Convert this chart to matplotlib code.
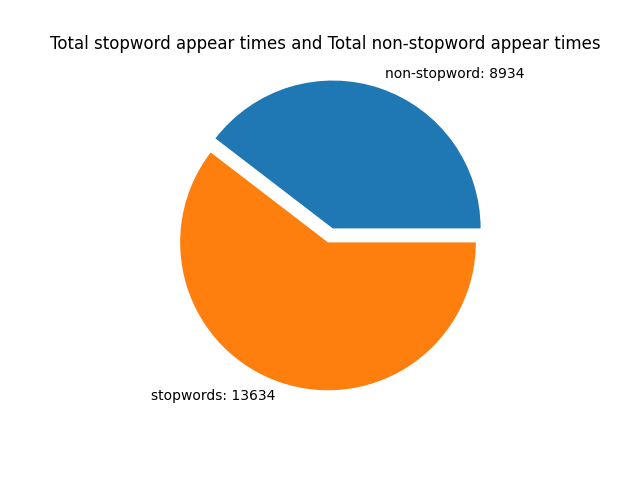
import matplotlib
matplotlib.use("Agg")
import matplotlib.pyplot as plt

labels = ["non-stopword: 8934", "stopwords: 13634"]
counts = [8934, 13634]
explode = [0.1, 0]

fig, ax = plt.subplots(figsize=(6.4, 4.8), dpi=100)
ax.pie(counts, labels=labels, explode=explode)
ax.set_title("Total stopword appear times and Total non-stopword appear times", x=0.493)
plt.savefig("out.png")
